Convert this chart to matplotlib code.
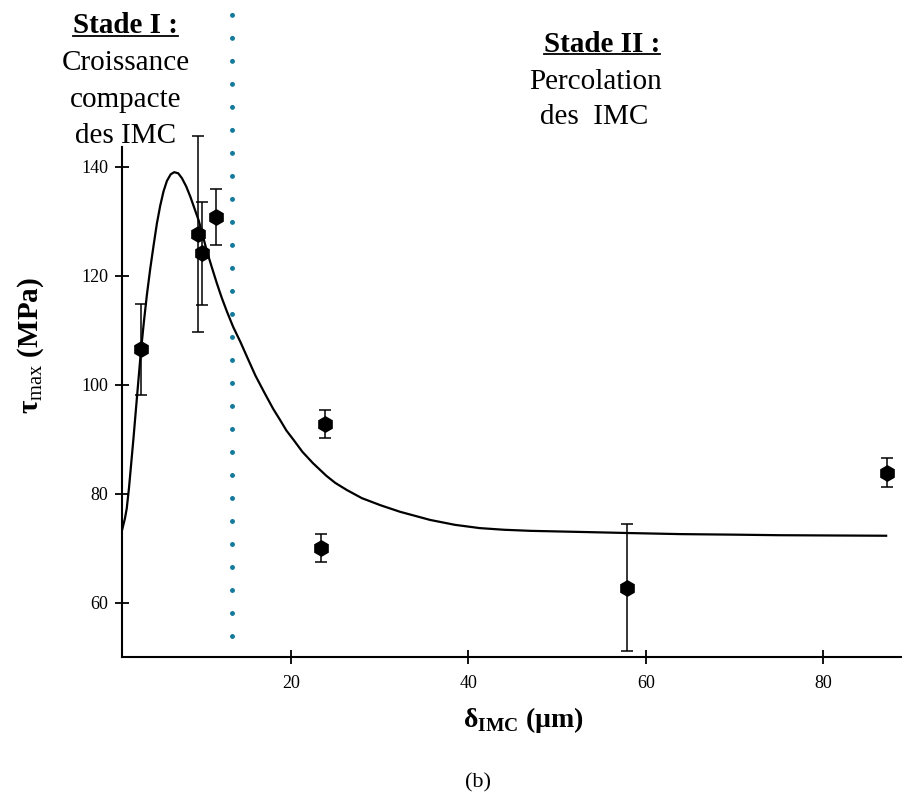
import numpy as np
import matplotlib
matplotlib.use("Agg")
import matplotlib.pyplot as plt
from matplotlib.lines import Line2D

plt.rcParams['font.family'] = ['Liberation Serif', 'DejaVu Serif']
plt.rcParams['mathtext.fontset'] = 'custom'
plt.rcParams['mathtext.rm'] = 'Liberation Serif'
plt.rcParams['mathtext.bf'] = 'Liberation Serif:bold'

# measured points (thickness of IMC in um, shear strength in MPa)
delta = [3.1, 9.5, 10.0, 11.6, 23.4, 23.9, 57.9, 87.2]
tau = [106.5, 127.6, 124.1, 130.8, 70.1, 92.8, 62.8, 83.9]
tau_err = [8.3, 18.0, 9.4, 5.2, 2.6, 2.5, 11.7, 2.6]

# fitted curve
fit_x = [1.0, 1.3, 1.5, 1.75, 2.0, 2.25, 2.5, 2.8, 3.1, 3.45, 3.78, 4.15,
         4.53, 4.9, 5.28, 5.65, 6.03, 6.45, 6.85, 7.3, 7.72, 8.2, 8.67, 9.1,
         9.6, 10.05, 10.5, 11.1, 11.66, 12.2, 12.8, 13.5, 14.3, 15.2, 16.0,
         17.0, 18.0, 18.8, 19.5, 20.3, 21.3, 22.5, 24.0, 25.0, 26.3, 28.0,
         30.1, 32.3, 35.7, 38.5, 41.3, 44.0, 47.0, 52.6, 58.0, 63.9, 70.0,
         75.0, 81.0, 87.1]
fit_y = [73.5, 75.5, 77.3, 81.0, 85.5, 90.0, 94.8, 100.5, 106.2, 111.8,
         116.6, 121.3, 125.6, 129.6, 132.9, 135.5, 137.4, 138.6, 139.0, 138.8,
         137.9, 136.4, 134.5, 132.5, 130.2, 127.5, 124.7, 121.5, 118.6, 116.0,
         113.4, 110.6, 107.9, 104.6, 101.7, 98.6, 95.6, 93.5, 91.6, 89.9, 87.7,
         85.6, 83.3, 82.0, 80.7, 79.2, 77.9, 76.7, 75.2, 74.3, 73.7, 73.4,
         73.2, 73.0, 72.8, 72.6, 72.5, 72.4, 72.35, 72.3]

# boundary between the two stages
stage_x = 13.35
stage_y = [53.9, 168.1]

xticks = [20, 40, 60, 80]
yticks = [60, 80, 100, 120, 140]

W, H = 903, 800
fig = plt.figure(figsize=(W / 100, H / 100), dpi=100)
ax = fig.add_axes([122.3 / W, 1 - 657.3 / H, (W - 122.3) / W, (657.3 - 3.2) / H])

ax.plot(fit_x, fit_y, color='black', lw=1.6, zorder=3)
ax.errorbar(delta, tau, yerr=tau_err, fmt='h', color='black', ms=11,
            ecolor='black', elinewidth=1.1, capsize=4.6, capthick=1.1, zorder=4)
ax.plot([stage_x, stage_x], stage_y, color='#137a9c', lw=3.6,
        ls=(0, (0.001, 4.6)), dash_capstyle='round', clip_on=False, zorder=2)

ax.set_xlim(1, 89)
ax.set_ylim(50, 170)
ax.set_xticks(xticks)
ax.set_yticks(yticks)
for s in ['top', 'right']:
    ax.spines[s].set_visible(False)
for s in ['left', 'bottom']:
    ax.spines[s].set_linewidth(1.5)
ax.spines['left'].set_bounds(50, 143.7)
ax.tick_params(direction='inout', length=10, width=1.3, labelsize=13, pad=5)
ax.tick_params(axis='x', pad=8)

fig.text(31 / W, 1 - 346 / H, r'τ$_{\mathrm{max}}$ (MPa)', rotation=90,
         ha='center', va='center', fontsize=21, fontweight='bold')
fig.text(523 / W, 1 - 720 / H, r'δ$_{\mathbf{IMC}}$ (µm)',
         ha='center', va='center', fontsize=20, fontweight='bold')
fig.text(478 / W, 1 - 783 / H, '(b)', ha='center', va='center', fontsize=16)

t1 = fig.text(126 / W, 1 - 33 / H, 'Stade I :', ha='center', va='baseline',
              fontsize=21, fontweight='bold')
fig.text(126 / W, 1 - 70 / H, 'Croissance', ha='center', va='baseline', fontsize=21)
fig.text(126 / W, 1 - 107 / H, 'compacte', ha='center', va='baseline', fontsize=21)
fig.text(126 / W, 1 - 143 / H, 'des IMC', ha='center', va='baseline', fontsize=21)

t2 = fig.text(601.7 / W, 1 - 51.7 / H, 'Stade II :', ha='center', va='baseline',
              fontsize=21, fontweight='bold')
fig.text(596 / W, 1 - 89 / H, 'Percolation', ha='center', va='baseline', fontsize=21)
fig.text(594 / W, 1 - 124 / H, 'des  IMC', ha='center', va='baseline', fontsize=21)

# underline the stage titles
fig.canvas.draw()
r = fig.canvas.get_renderer()
for t, base in [(t1, 33), (t2, 51.7)]:
    bb = t.get_window_extent(renderer=r)
    yy = (H - base - 2.5) / H
    fig.add_artist(Line2D([bb.x0 / W, bb.x1 / W], [yy, yy], color='black',
                          lw=1.3, transform=fig.transFigure))

fig.savefig('out.png', dpi=100)
